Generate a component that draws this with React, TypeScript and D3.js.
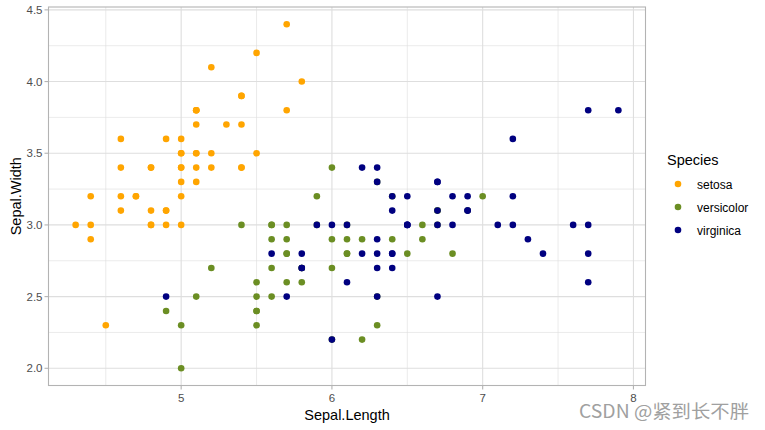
import React from "react";
import * as d3 from "d3";

const species = ["setosa", "versicolor", "virginica"];
const colors = ["#FFA500", "#6B8E23", "#000080"];

const setosaLength = [5.1,4.9,4.7,4.6,5.0,5.4,4.6,5.0,4.4,4.9,5.4,4.8,4.8,4.3,5.8,5.7,5.4,5.1,5.7,5.1,5.4,5.1,4.6,5.1,4.8,5.0,5.0,5.2,5.2,4.7,4.8,5.4,5.2,5.5,4.9,5.0,5.5,4.9,4.4,5.1,5.0,4.5,4.4,5.0,5.1,4.8,5.1,4.6,5.3,5.0];
const setosaWidth = [3.5,3.0,3.2,3.1,3.6,3.9,3.4,3.4,2.9,3.1,3.7,3.4,3.0,3.0,4.0,4.4,3.9,3.5,3.8,3.8,3.4,3.7,3.6,3.3,3.4,3.0,3.4,3.5,3.4,3.2,3.1,3.4,4.1,4.2,3.1,3.2,3.5,3.6,3.0,3.4,3.5,2.3,3.2,3.5,3.8,3.0,3.8,3.2,3.7,3.3];
const versicolorLength = [7.0,6.4,6.9,5.5,6.5,5.7,6.3,4.9,6.6,5.2,5.0,5.9,6.0,6.1,5.6,6.7,5.6,5.8,6.2,5.6,5.9,6.1,6.3,6.1,6.4,6.6,6.8,6.7,6.0,5.7,5.5,5.5,5.8,6.0,5.4,6.0,6.7,6.3,5.6,5.5,5.5,6.1,5.8,5.0,5.6,5.7,5.7,6.2,5.1,5.7];
const versicolorWidth = [3.2,3.2,3.1,2.3,2.8,2.8,3.3,2.4,2.9,2.7,2.0,3.0,2.2,2.9,2.9,3.1,3.0,2.7,2.2,2.5,3.2,2.8,2.5,2.8,2.9,3.0,2.8,3.0,2.9,2.6,2.4,2.4,2.7,2.7,3.0,3.4,3.1,2.3,3.0,2.5,2.6,3.0,2.6,2.3,2.7,3.0,2.9,2.9,2.5,2.8];
const virginicaLength = [6.3,5.8,7.1,6.3,6.5,7.6,4.9,7.3,6.7,7.2,6.5,6.4,6.8,5.7,5.8,6.4,6.5,7.7,7.7,6.0,6.9,5.6,7.7,6.3,6.7,7.2,6.2,6.1,6.4,7.2,7.4,7.9,6.4,6.3,6.1,7.7,6.3,6.4,6.0,6.9,6.7,6.9,5.8,6.8,6.7,6.7,6.3,6.5,6.2,5.9];
const virginicaWidth = [3.3,2.7,3.0,2.9,3.0,3.0,2.5,2.9,2.5,3.6,3.2,2.7,3.0,2.5,2.8,3.2,3.0,3.8,2.6,2.2,3.2,2.8,2.8,2.7,3.3,3.2,2.8,3.0,2.8,3.0,2.8,3.8,2.8,2.8,2.6,3.0,3.4,3.1,3.0,3.1,3.1,3.1,2.7,3.2,3.3,3.0,2.5,3.0,3.4,3.0];

const xTicks = [5, 6, 7, 8];
const yTicks = [2.0, 2.5, 3.0, 3.5, 4.0, 4.5];
const xMinor = [4.5, 5.5, 6.5, 7.5];
const yMinor = [2.25, 2.75, 3.25, 3.75, 4.25];

const lengths = [setosaLength, versicolorLength, virginicaLength];
const widths = [setosaWidth, versicolorWidth, virginicaWidth];

export default function App() {
  const W = 765, H = 430;
  const left = 48.5, right = 645.5, top = 7, bottom = 385.5;
  const x = d3.scaleLinear().domain([4.12, 8.08]).range([left, right]);
  const y = d3.scaleLinear().domain([1.88, 4.52]).range([bottom, top]);
  const font = "Liberation Sans, Arial, sans-serif";
  const grid = "#DEDEDE";
  const border = "#B3B3B3";

  return (
    <svg width={W} height={H} style={{ position: "absolute", left: 0, top: 0, background: "#fff" }} fontFamily={font}>
      <rect x={0} y={0} width={W} height={H} fill="#fff" />
      {xMinor.map((v) => (
        <line key={"xm" + v} x1={x(v)} x2={x(v)} y1={top} y2={bottom} stroke={grid} strokeWidth={0.6} />
      ))}
      {yMinor.map((v) => (
        <line key={"ym" + v} x1={left} x2={right} y1={y(v)} y2={y(v)} stroke={grid} strokeWidth={0.6} />
      ))}
      {xTicks.map((v) => (
        <line key={"xg" + v} x1={x(v)} x2={x(v)} y1={top} y2={bottom} stroke={grid} strokeWidth={1.1} />
      ))}
      {yTicks.map((v) => (
        <line key={"yg" + v} x1={left} x2={right} y1={y(v)} y2={y(v)} stroke={grid} strokeWidth={1.1} />
      ))}
      {lengths.map((arr, si) =>
        arr.map((lv, i) => (
          <circle key={si + "-" + i} cx={x(lv)} cy={y(widths[si][i])} r={3.3} fill={colors[si]} />
        ))
      )}
      <rect x={left} y={top} width={right - left} height={bottom - top} fill="none" stroke={border} strokeWidth={1.1} />
      {xTicks.map((v) => (
        <g key={"xt" + v}>
          <line x1={x(v)} x2={x(v)} y1={bottom} y2={bottom + 4} stroke={border} strokeWidth={1.1} />
          <text x={x(v)} y={bottom + 16} textAnchor="middle" fontSize={11.5} fill="#4D4D4D">{v}</text>
        </g>
      ))}
      {yTicks.map((v) => (
        <g key={"yt" + v}>
          <line x1={left - 4} x2={left} y1={y(v)} y2={y(v)} stroke={border} strokeWidth={1.1} />
          <text x={left - 6} y={y(v) + 4} textAnchor="end" fontSize={11.5} fill="#4D4D4D">{v.toFixed(1)}</text>
        </g>
      ))}
      <text x={(left + right) / 2} y={420} textAnchor="middle" fontSize={14.5} fill="#000">Sepal.Length</text>
      <text transform={`translate(21,${(top + bottom) / 2}) rotate(-90)`} textAnchor="middle" fontSize={14.5} fill="#000">Sepal.Width</text>
      <text x={667} y={165} fontSize={14.5} fill="#000">Species</text>
      {species.map((s, i) => (
        <g key={s}>
          <circle cx={678} cy={184 + i * 23} r={3.3} fill={colors[i]} />
          <text x={697} y={188.5 + i * 23} fontSize={12} fill="#000">{s}</text>
        </g>
      ))}
      <text x={579} y={418} fontSize={18} fill="#A0A0A0" textLength={170} lengthAdjust="spacingAndGlyphs" fontFamily="Noto Sans CJK SC, sans-serif">CSDN @紧到长不胖</text>
    </svg>
  );
}
